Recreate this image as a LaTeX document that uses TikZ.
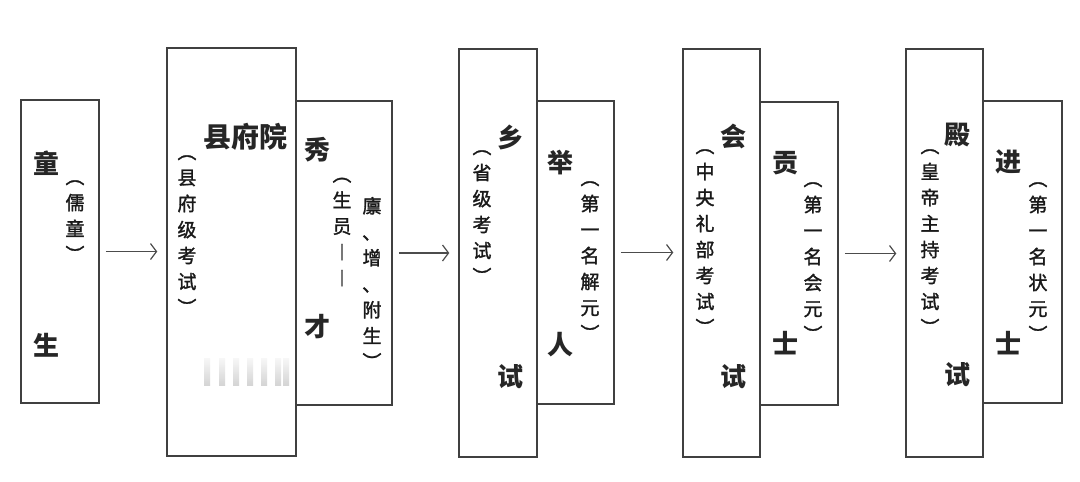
\documentclass[tikz,border=0pt]{standalone}
\usepackage{fontspec}
\setmainfont{Noto Sans CJK SC}
\newfontfamily\annfont{Noto Sans CJK SC}[FakeBold=1.5]
\usetikzlibrary{arrows.meta}
\newcommand\vcomma{\makebox[19pt][l]{\raisebox{-12pt}[13pt][0pt]{\kern-12pt ︑}}}
\begin{document}
\begin{tikzpicture}[x=1pt,y=-1pt,
  box/.style={draw=black!75, line width=1.5pt, inner sep=0pt, rectangle},
  big/.style={font=\fontsize{26}{26}\selectfont\bfseries, inner sep=0pt, text=black!85},
  ann/.style={font=\annfont\fontsize{19}{26}\selectfont, align=center, inner sep=0pt, text=black!90},
  flow/.style={draw=black!70, line width=1.2pt, -{Straight Barb[length=6pt,width=16pt]}, shorten <=6pt, shorten >=9pt}]
\useasboundingbox (0,0) rectangle (1080,482);
\fill[white] (0,0) rectangle (1080,482);
% boxes
\node[box, minimum width=78pt, minimum height=303pt] (b1) at (60,251.5) {};
\node[box, minimum width=129pt, minimum height=408pt] (b2) at (231.5,252) {};
\node[box, minimum width=96pt, minimum height=304pt] (b3) at (344,253) {};
\node[box, minimum width=78pt, minimum height=408pt] (b4) at (498,253) {};
\node[box, minimum width=77pt, minimum height=303pt] (b5) at (575.5,252.5) {};
\node[box, minimum width=77pt, minimum height=408pt] (b6) at (721.5,253) {};
\node[box, minimum width=78pt, minimum height=303pt] (b7) at (799,253.5) {};
\node[box, minimum width=77pt, minimum height=408pt] (b8) at (944.5,253) {};
\node[box, minimum width=79pt, minimum height=302pt] (b9) at (1022.5,252) {};
% arrows
\draw[flow] (b1.east) -- (b1.east -| b2.west);
\draw[flow] (b3.east) -- (b3.east -| b4.west);
\draw[flow] (b5.east) -- (b5.east -| b6.west);
\draw[flow] (b7.east) -- (b7.east -| b8.west);
% box 1
\node[big] (t1a) at (47,163) {童};
\node[big] (t1b) at (47,345) {生};
\node[ann] (n1) at (75,221) {︵\\儒\\童\\︶};
% box 2
\node[big, font=\fontsize{28}{28}\selectfont\bfseries] (t2) at (245,137) {县府院};
\node[ann] (n2) at (187,235) {︵\\县\\府\\级\\考\\试\\︶};
\foreach \xx in {207,222,236,250,264,278,286}
  \shade[top color=gray!10, bottom color=gray!55, opacity=0.6] (\xx-3,358) rectangle (\xx+3,385);
% box 3
\node[big] (t3a) at (317,150) {秀};
\node[big] (t3b) at (317,327) {才};
\node[ann] (n3a) at (342,232) {︵\\生\\员\\︱\\︱};
\node[ann] (n3b) at (372,283) {廪\\\vcomma\\增\\\vcomma\\附\\生\\︶};
% box 4
\node[big] (t4a) at (510,137) {乡};
\node[big] (t4b) at (510,377) {试};
\node[ann] (n4) at (482,217) {︵\\省\\级\\考\\试\\︶};
% box 5
\node[big] (t5a) at (560,163) {举};
\node[big] (t5b) at (560,345) {人};
\node[ann] (n5) at (590,261) {︵\\第\\一\\名\\解\\元\\︶};
% box 6
\node[big] (t6a) at (733,137) {会};
\node[big] (t6b) at (733,377) {试};
\node[ann] (n6) at (705,242) {︵\\中\\央\\礼\\部\\考\\试\\︶};
% box 7
\node[big] (t7a) at (785,163) {贡};
\node[big] (t7b) at (785,343) {士};
\node[ann] (n7) at (813,262) {︵\\第\\一\\名\\会\\元\\︶};
% box 8
\node[big] (t8a) at (957,135) {殿};
\node[big] (t8b) at (957,375) {试};
\node[ann] (n8) at (930,242) {︵\\皇\\帝\\主\\持\\考\\试\\︶};
% box 9
\node[big] (t9a) at (1008,162) {进};
\node[big] (t9b) at (1008,343) {士};
\node[ann] (n9) at (1038,262) {︵\\第\\一\\名\\状\\元\\︶};
\end{tikzpicture}
\end{document}
